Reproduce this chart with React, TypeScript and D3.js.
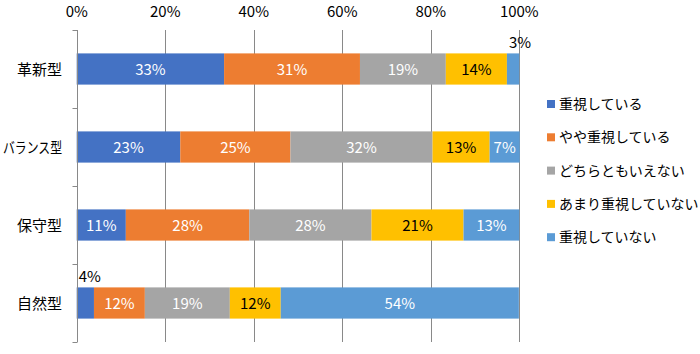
import { useEffect, useRef } from 'react';
import * as d3 from 'd3';

const categories = ['革新型', 'バランス型', '保守型', '自然型'];
const seriesNames = ['重視している', 'やや重視している', 'どちらともいえない', 'あまり重視していない', '重視していない'];
const seriesColors = ['#4472C4', '#ED7D31', '#A5A5A5', '#FFC000', '#5B9BD5'];
const labelColors = ['#fff', '#fff', '#fff', '#000', '#fff'];
// percent values per category, order follows seriesNames
const values = [
  [33.3, 30.7, 19.4, 13.8, 2.8],
  [23.4, 24.9, 32.1, 12.9, 6.8],
  [11.1, 27.9, 27.6, 20.8, 12.6],
  [3.9, 11.5, 19.2, 11.5, 53.8],
];
const xTicks = [0, 20, 40, 60, 80, 100];

const FONT = '"Noto Sans CJK JP", "Noto Sans", sans-serif';

export default function App() {
  const svgRef = useRef<SVGSVGElement>(null);

  useEffect(() => {
    const svg = d3.select(svgRef.current);
    svg.selectAll('*').remove();

    const left = 76.7, right = 519.3, top = 30, bottom = 342;

    const x = d3.scaleLinear().domain([0, 100]).range([left, right]);
    const y = d3.scaleBand().domain(categories).range([top, bottom]).paddingInner(0.6).paddingOuter(0.3);

    // vertical gridlines
    svg.append('g')
      .selectAll('line')
      .data(xTicks.slice(1))
      .join('line')
      .attr('x1', d => Math.round(x(d)) + 0.5)
      .attr('x2', d => Math.round(x(d)) + 0.5)
      .attr('y1', top)
      .attr('y2', bottom)
      .attr('stroke', '#898989')
      .attr('stroke-width', 1);

    // top tick labels
    svg.append('g')
      .selectAll('text')
      .data(xTicks)
      .join('text')
      .attr('x', d => x(d))
      .attr('y', 17)
      .attr('text-anchor', 'middle')
      .attr('font-family', FONT)
      .attr('font-size', 15)
      .attr('fill', '#000')
      .text(d => `${d}%`);

    // bars
    categories.forEach((cat, ci) => {
      let acc = 0;
      const row = values[ci];
      const g = svg.append('g');
      row.forEach((v, si) => {
        const x0 = acc;
        acc += v;
        g.append('rect')
          .attr('x', x(x0))
          .attr('y', y(cat)!)
          .attr('width', x(acc) - x(x0))
          .attr('height', y.bandwidth())
          .attr('fill', seriesColors[si]);

        const small = v < 5;
        g.append('text')
          .attr('x', small ? x(x0) + 2 : (x(x0) + x(acc)) / 2)
          .attr('y', small ? y(cat)! - 5 : y(cat)! + y.bandwidth() / 2 + 5.5)
          .attr('text-anchor', small ? 'start' : 'middle')
          .attr('font-family', FONT)
          .attr('font-size', 15)
          .attr('fill', small ? '#000' : labelColors[si])
          .text(`${Math.round(v)}%`);
      });
    });

    // y axis line + ticks
    const axisX = Math.round(left) + 0.5;
    svg.append('line')
      .attr('x1', axisX).attr('x2', axisX)
      .attr('y1', top).attr('y2', bottom)
      .attr('stroke', '#898989');

    const bounds = d3.range(categories.length + 1).map(i => top + (bottom - top) * i / categories.length);
    svg.append('g')
      .selectAll('line')
      .data(bounds)
      .join('line')
      .attr('x1', axisX - 5)
      .attr('x2', axisX)
      .attr('y1', d => Math.round(d) + 0.5)
      .attr('y2', d => Math.round(d) + 0.5)
      .attr('stroke', '#898989');

    // category labels (squeeze long ones, the kana run wider than in the original font)
    svg.append('g')
      .selectAll('text')
      .data(categories)
      .join('text')
      .attr('x', 62)
      .attr('y', d => y(d)! + y.bandwidth() / 2 + 5.5)
      .attr('text-anchor', 'end')
      .attr('font-family', FONT)
      .attr('font-size', 15)
      .attr('fill', '#000')
      .text(d => d)
      .each(function () {
        const el = this as SVGTextElement;
        if (el.getComputedTextLength() > 59) {
          el.setAttribute('textLength', '59');
          el.setAttribute('lengthAdjust', 'spacingAndGlyphs');
        }
      });

    // legend
    const legend = svg.append('g');
    seriesNames.forEach((name, i) => {
      const cy = 104 + i * 33.3;
      legend.append('rect')
        .attr('x', 547)
        .attr('y', cy - 4)
        .attr('width', 8)
        .attr('height', 8)
        .attr('fill', seriesColors[i]);
      legend.append('text')
        .attr('x', 559)
        .attr('y', cy + 5)
        .attr('font-family', FONT)
        .attr('font-size', 14)
        .attr('fill', '#000')
        .text(name);
    });
  }, []);

  return (
    <svg
      ref={svgRef}
      width={700}
      height={354}
      style={{ position: 'absolute', left: 0, top: 0, background: '#fff' }}
    />
  );
}
